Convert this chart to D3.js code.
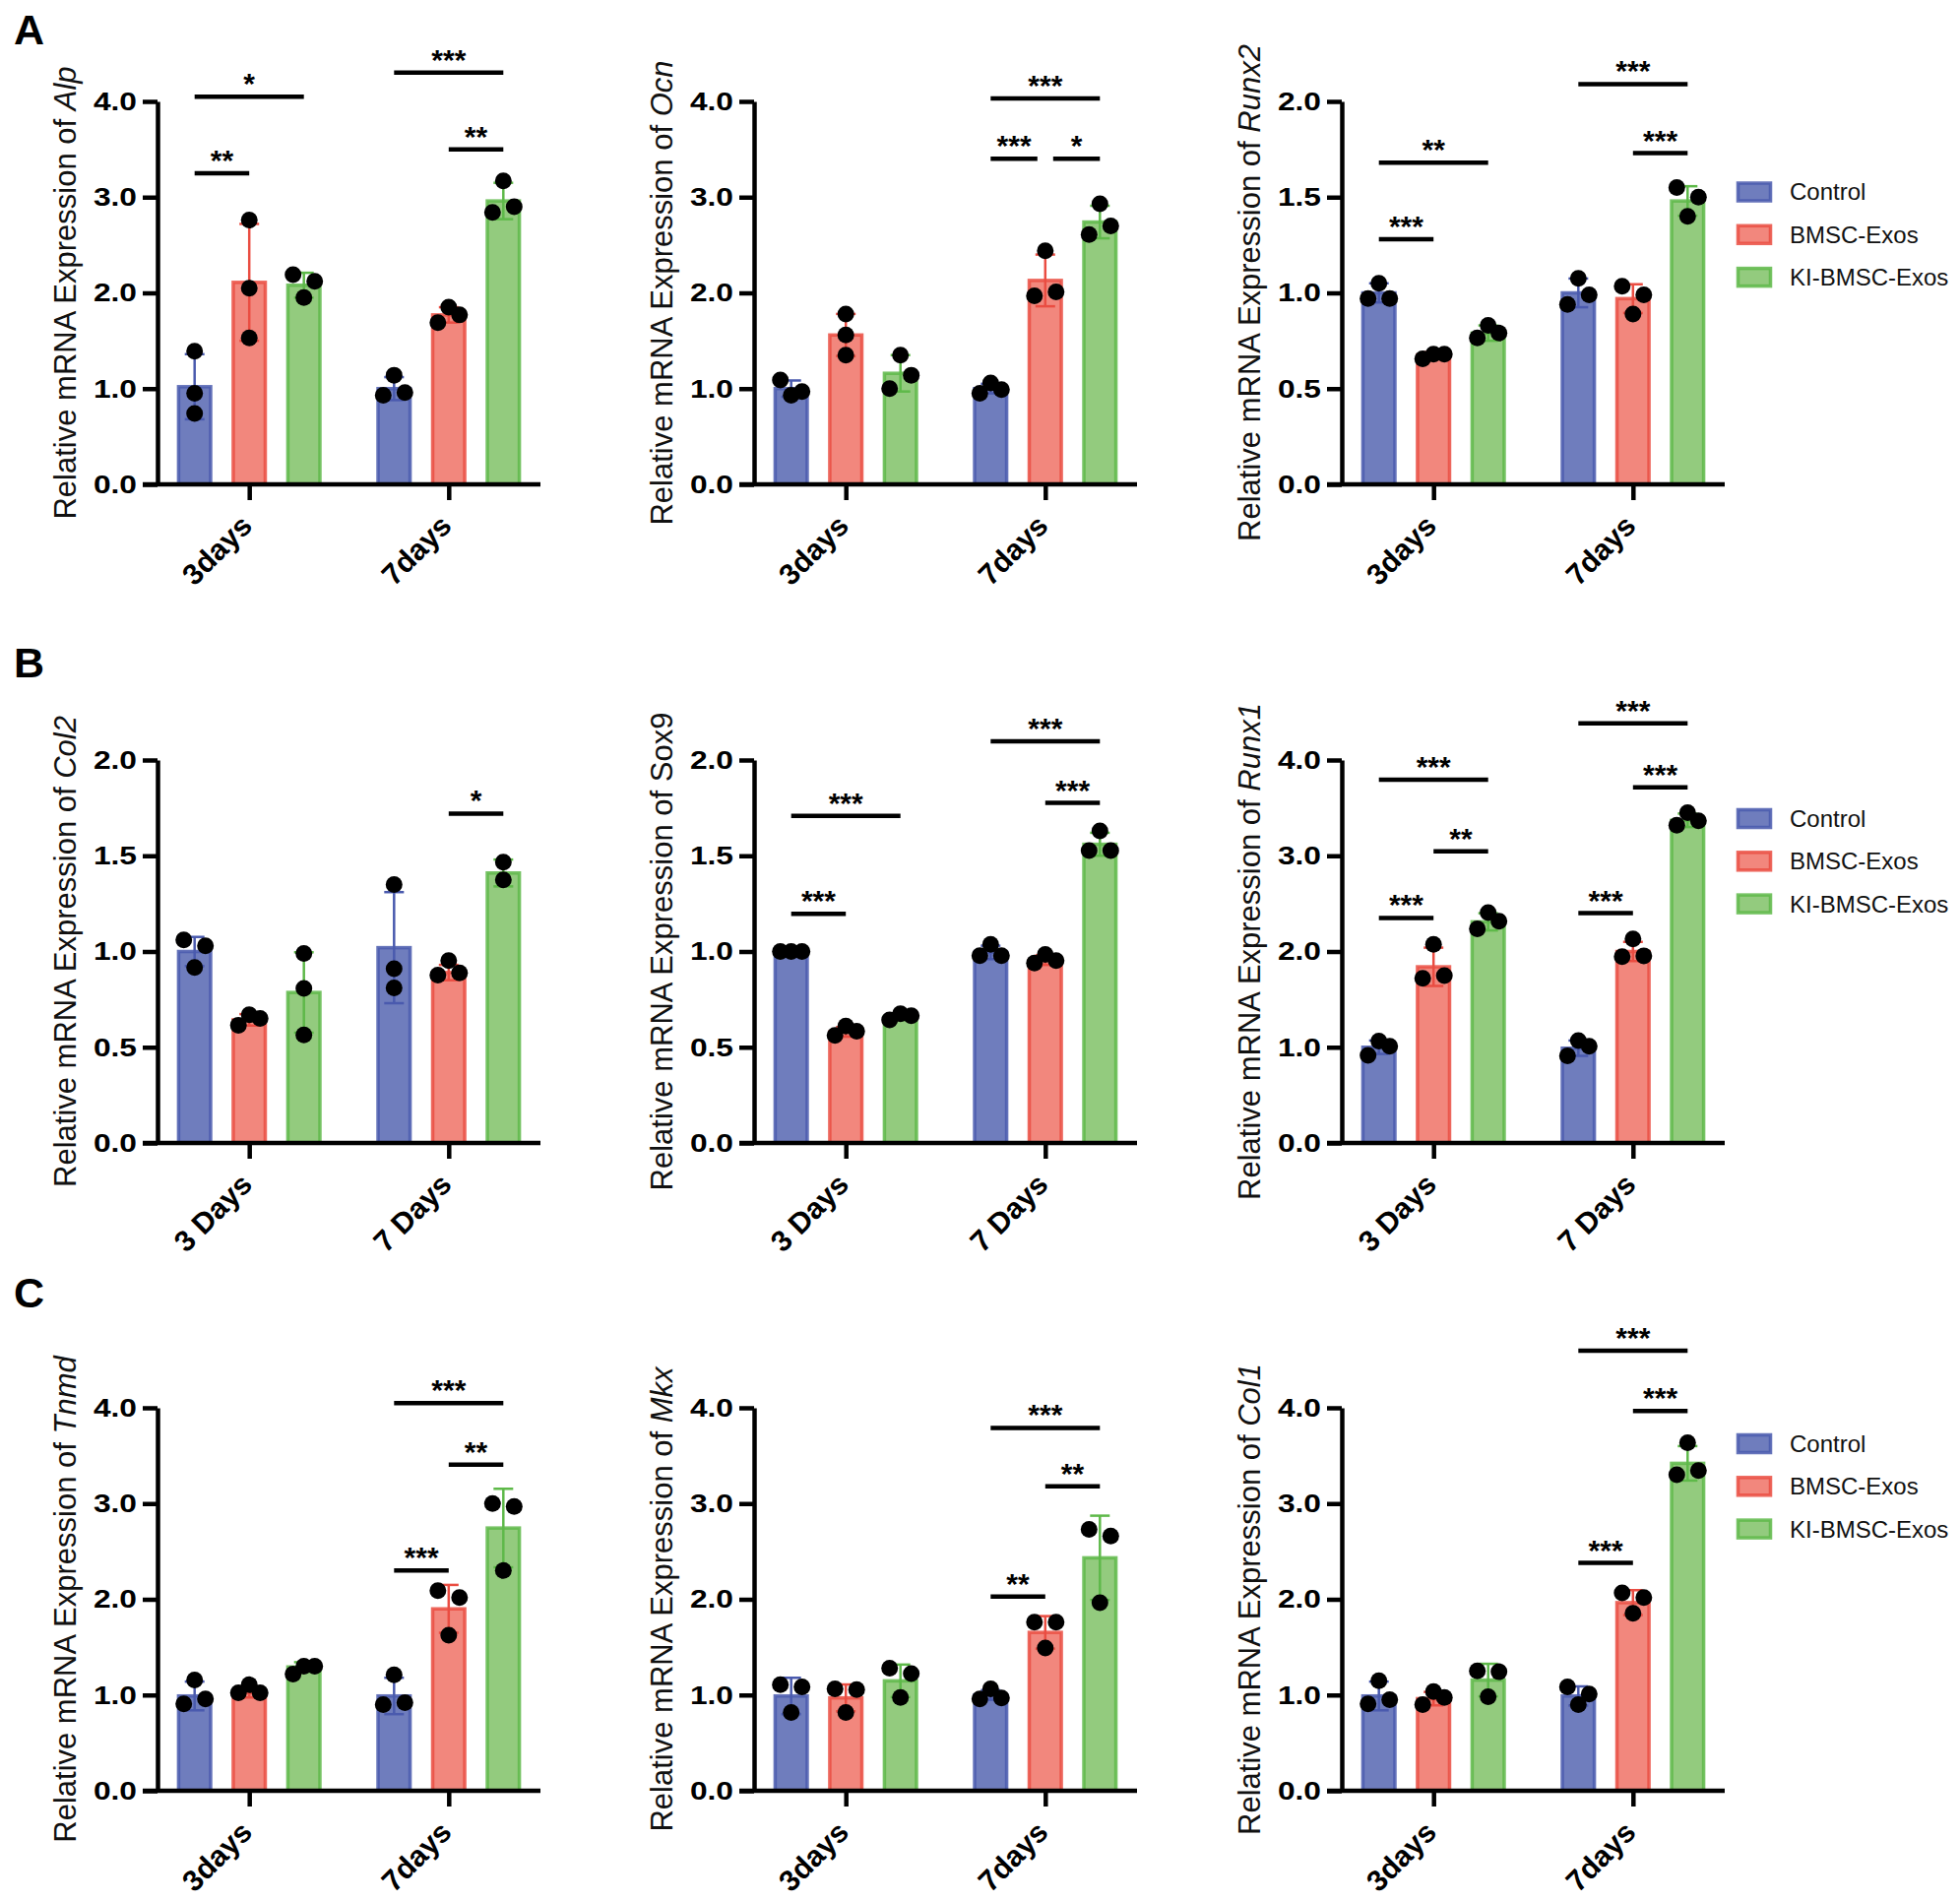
<!DOCTYPE html>
<html><head><meta charset="utf-8">
<script src="https://cdn.jsdelivr.net/npm/d3@7"></script>
<style>
body{margin:0;background:#fff}
svg{display:block}
text{font-family:"Liberation Sans",Arial,Helvetica,sans-serif}
</style>
</head><body>
<svg id="chart" width="1991" height="1932"></svg>
<script>
// ---------------- DATA ----------------
const seriesNames = ["Control", "BMSC-Exos", "KI-BMSC-Exos"];
const timesLower = ["3days", "7days"];
const timesUpper = ["3 Days", "7 Days"];
const ticks4 = [0, 1, 2, 3, 4];
const ticks2 = [0, 0.5, 1, 1.5, 2];

// means [time][series], sd [time][series], points [time][series][replicates], sig [time, from, to, level, label]
const alpMean = [[1.02, 2.11, 2.08], [1.00, 1.77, 2.96]];
const alpSD = [[0.34, 0.61, 0.13], [0.12, 0.08, 0.19]];
const alpPoints = [[[1.39, 0.95, 0.74], [2.76, 2.05, 1.53], [2.19, 1.95, 2.12]],
                   [[0.93, 1.14, 0.96], [1.69, 1.85, 1.77], [2.84, 3.17, 2.90]]];
const alpSig = [[0, 0, 2, 4.05, "*"], [0, 0, 1, 3.25, "**"], [1, 0, 2, 4.30, "***"], [1, 1, 2, 3.50, "**"]];

const ocnMean = [[1.00, 1.56, 1.16], [1.00, 2.13, 2.74]];
const ocnSD = [[0.085, 0.22, 0.19], [0.05, 0.27, 0.17]];
const ocnPoints = [[[1.09, 0.93, 0.97], [1.78, 1.56, 1.35], [1.00, 1.35, 1.14]],
                   [[0.95, 1.06, 0.99], [1.97, 2.44, 2.01], [2.61, 2.93, 2.70]]];
const ocnSig = [[1, 0, 2, 4.03, "***"], [1, 0, 1, 3.40, "***"], [1, 1, 2, 3.40, "*"]];

const runx2Mean = [[1.00, 0.675, 0.79], [1.00, 0.97, 1.48]];
const runx2SD = [[0.05, 0.015, 0.04], [0.075, 0.075, 0.077]];
const runx2Points = [[[0.97, 1.05, 0.97], [0.655, 0.68, 0.68], [0.765, 0.83, 0.79]],
                     [[0.94, 1.076, 0.99], [1.035, 0.89, 0.99], [1.55, 1.40, 1.50]]];
const runx2Sig = [[0, 0, 1, 1.28, "***"], [0, 0, 2, 1.68, "**"], [1, 0, 2, 2.09, "***"], [1, 1, 2, 1.73, "***"]];

const col2Mean = [[1.00, 0.643, 0.786], [1.02, 0.89, 1.41]];
const col2SD = [[0.076, 0.03, 0.21], [0.29, 0.04, 0.07]];
const col2Points = [[[1.06, 0.916, 1.03], [0.615, 0.67, 0.65], [0.99, 0.807, 0.564]],
                    [[1.35, 0.91, 0.81], [0.877, 0.952, 0.888], [1.467, 1.374]]];
const col2Sig = [[1, 1, 2, 1.72, "*"]];

const sox9Mean = [[1.00, 0.58, 0.66], [0.995, 0.955, 1.56]];
const sox9SD = [[0.005, 0.025, 0.017], [0.035, 0.025, 0.06]];
const sox9Points = [[[1.0, 1.0, 1.0], [0.562, 0.61, 0.584], [0.643, 0.675, 0.665]],
                    [[0.978, 1.037, 0.978], [0.94, 0.984, 0.952], [1.527, 1.63, 1.527]]];
const sox9Sig = [[0, 0, 1, 1.197, "***"], [0, 0, 2, 1.708, "***"], [1, 0, 2, 2.098, "***"], [1, 1, 2, 1.776, "***"]];

const runx1Mean = [[1.00, 1.84, 2.31], [0.99, 2.00, 3.37]];
const runx1SD = [[0.07, 0.20, 0.09], [0.08, 0.10, 0.07]];
const runx1Points = [[[0.916, 1.065, 1.01], [1.72, 2.075, 1.747], [2.236, 2.407, 2.317]],
                     [[0.91, 1.07, 1.01], [1.947, 2.13, 1.955], [3.318, 3.45, 3.365]]];
const runx1Sig = [[0, 0, 1, 2.35, "***"], [0, 1, 2, 3.046, "**"], [0, 0, 2, 3.795, "***"],
                  [1, 0, 1, 2.40, "***"], [1, 1, 2, 3.715, "***"], [1, 0, 2, 4.383, "***"]];

const tnmdMean = [[0.99, 1.024, 1.293], [0.99, 1.90, 2.744]];
const tnmdSD = [[0.15, 0.05, 0.05], [0.19, 0.25, 0.41]];
const tnmdPoints = [[[0.908, 1.157, 0.96], [1.024, 1.107, 1.024], [1.219, 1.30, 1.30]],
                    [[0.90, 1.21, 0.92], [2.089, 1.625, 2.019], [3.00, 2.30, 2.97]]];
const tnmdSig = [[1, 0, 1, 2.30, "***"], [1, 1, 2, 3.407, "**"], [1, 0, 2, 4.05, "***"]];

const mkxMean = [[0.99, 0.97, 1.148], [1.00, 1.654, 2.433]];
const mkxSD = [[0.19, 0.14, 0.17], [0.05, 0.17, 0.44]];
const mkxPoints = [[[1.107, 0.817, 1.086], [1.065, 0.817, 1.057], [1.28, 0.974, 1.223]],
                   [[0.96, 1.065, 0.97], [1.76, 1.49, 1.76], [2.73, 1.965, 2.66]]];
const mkxSig = [[1, 0, 1, 2.027, "**"], [1, 1, 2, 3.18, "**"], [1, 0, 2, 3.79, "***"]];

const col1Mean = [[0.99, 0.962, 1.156], [0.99, 1.965, 3.42]];
const col1SD = [[0.15, 0.07, 0.17], [0.10, 0.13, 0.18]];
const col1Points = [[[0.908, 1.148, 0.95], [0.90, 1.036, 0.974], [1.252, 0.982, 1.243]],
                    [[1.086, 0.90, 1.01], [2.068, 1.853, 2.019], [3.30, 3.635, 3.345]]];
const col1Sig = [[1, 0, 1, 2.38, "***"], [1, 1, 2, 3.967, "***"], [1, 0, 2, 4.597, "***"]];

const genes = ["Alp", "Ocn", "Runx2", "Col2", "Sox9", "Runx1", "Tnmd", "Mkx", "Col1"];
const geneItalic = [true, true, true, true, false, true, true, true, true];
const panelLetters = ["A", "B", "C"];

// ---------------- STYLE / LAYOUT ----------------
const fillColors = ["#6F7DBD", "#F2877D", "#93CB7E"];
const strokeColors = ["#4A5AAE", "#EA4D42", "#5EB949"];
const colX = [160, 766, 1363];
const rowTop = [103, 772, 1430];
const plotH = 389, plotW = 389;
const legendTop = [92, 59.5, 36.5];
const letterBase = [45, 688, 1328];
const FONT = '"Liberation Sans",Arial,Helvetica,sans-serif';

const panels = [
  {mean: alpMean, sd: alpSD, pts: alpPoints, sig: alpSig, ticks: ticks4, times: timesLower},
  {mean: ocnMean, sd: ocnSD, pts: ocnPoints, sig: ocnSig, ticks: ticks4, times: timesLower},
  {mean: runx2Mean, sd: runx2SD, pts: runx2Points, sig: runx2Sig, ticks: ticks2, times: timesLower},
  {mean: col2Mean, sd: col2SD, pts: col2Points, sig: col2Sig, ticks: ticks2, times: timesUpper},
  {mean: sox9Mean, sd: sox9SD, pts: sox9Points, sig: sox9Sig, ticks: ticks2, times: timesUpper},
  {mean: runx1Mean, sd: runx1SD, pts: runx1Points, sig: runx1Sig, ticks: ticks4, times: timesUpper},
  {mean: tnmdMean, sd: tnmdSD, pts: tnmdPoints, sig: tnmdSig, ticks: ticks4, times: timesLower},
  {mean: mkxMean, sd: mkxSD, pts: mkxPoints, sig: mkxSig, ticks: ticks4, times: timesLower},
  {mean: col1Mean, sd: col1SD, pts: col1Points, sig: col1Sig, ticks: ticks4, times: timesLower}
];

const svg = d3.select("#chart");
const DOT_R = 8.5, SPREAD = 11;

// spread overlapping points horizontally (column scatter)
function swarmOffsets(vals, y) {
  const idx = vals.map((v, i) => i).sort((a, b) => vals[b] - vals[a]);
  const clusters = [];
  let cur = [idx[0]];
  for (let k = 1; k < idx.length; k++) {
    const dy = Math.abs(y(vals[idx[k]]) - y(vals[idx[k - 1]]));
    if (dy < DOT_R * 2) cur.push(idx[k]); else { clusters.push(cur); cur = [idx[k]]; }
  }
  clusters.push(cur);
  const off = new Array(vals.length).fill(0);
  clusters.forEach(c => {
    const members = c.slice().sort((a, b) => a - b);
    const n = members.length;
    members.forEach((m, j) => { off[m] = (j - (n - 1) / 2) * (n === 2 ? 2 : 1) * SPREAD; });
  });
  return off;
}

panels.forEach((p, pi) => {
  const row = Math.floor(pi / 3), col = pi % 3;
  const x0 = colX[col], top = rowTop[row], bottom = top + plotH;
  const yMax = d3.max(p.ticks);
  const y = d3.scaleLinear().domain([0, yMax]).range([bottom, top]);
  const x = d3.scalePoint().domain(p.times).range([x0, x0 + plotW]).padding(0.46);
  const sub = d3.scaleBand().domain([0, 1, 2]).range([-83.25, 83.25]).paddingInner(0.35).paddingOuter(0.175);
  const bw = sub.bandwidth();
  const cx = (t, s) => x(p.times[t]) + sub(s) + bw / 2;
  const g = svg.append("g");

  // bars
  p.mean.forEach((ms, t) => ms.forEach((m, s) => {
    g.append("rect")
      .attr("x", cx(t, s) - bw / 2 + 1.75).attr("width", bw - 3.5)
      .attr("y", y(m)).attr("height", y(0) - y(m))
      .attr("fill", fillColors[s]).attr("stroke", strokeColors[s])
      .attr("stroke-width", 3.5).attr("stroke-opacity", 0.85);
  }));
  // error bars
  p.mean.forEach((ms, t) => ms.forEach((m, s) => {
    const sd = p.sd[t][s], c = cx(t, s);
    const eg = g.append("g").attr("stroke", strokeColors[s]).attr("stroke-width", 2.5);
    eg.append("line").attr("x1", c).attr("x2", c).attr("y1", y(m - sd)).attr("y2", y(m + sd));
    [m - sd, m + sd].forEach(v => eg.append("line").attr("x1", c - 10).attr("x2", c + 10).attr("y1", y(v)).attr("y2", y(v)));
  }));
  // points
  p.pts.forEach((grp, t) => grp.forEach((vals, s) => {
    const off = swarmOffsets(vals, y);
    vals.forEach((v, i) => {
      g.append("circle").attr("cx", cx(t, s) + off[i]).attr("cy", y(v)).attr("r", DOT_R).attr("fill", "#000");
    });
  }));

  // y axis
  const ya = g.append("g").attr("transform", `translate(${x0},0)`)
    .call(d3.axisLeft(y).tickValues(p.ticks).tickSize(15).tickSizeOuter(0).tickPadding(6).tickFormat(d3.format(".1f")));
  ya.selectAll("path,line").attr("stroke", "#000").attr("stroke-width", 4.5);
  ya.selectAll("text").attr("font-size", 26).attr("font-weight", "bold").attr("fill", "#000").attr("font-family", FONT)
    .attr("x", -21 / 1.22).attr("transform", "scale(1.22,1)");

  // x axis
  const xa = g.append("g").attr("transform", `translate(0,${bottom})`)
    .call(d3.axisBottom(x).tickSize(16).tickSizeOuter(0));
  xa.select(".domain").attr("d", `M${x0 - 15},0H${x0 + plotW}`);
  xa.selectAll("path,line").attr("stroke", "#000").attr("stroke-width", 4.5);
  xa.selectAll("text").attr("font-size", 30).attr("font-weight", "bold").attr("fill", "#000").attr("font-family", FONT)
    .attr("y", null).attr("dy", null).attr("text-anchor", "end")
    .attr("transform", "translate(4,44) rotate(-45)");

  // y label
  const yl = g.append("text").attr("text-anchor", "middle").attr("font-size", 31).attr("fill", "#111")
    .attr("transform", `translate(${x0 - 83},${(top + bottom) / 2}) rotate(-90)`);
  yl.append("tspan").text("Relative mRNA Expression of ");
  yl.append("tspan").attr("font-style", geneItalic[pi] ? "italic" : "normal").text(genes[pi]);

  // significance brackets
  p.sig.forEach((sg, k) => {
    const [t, a, b, lvl, lab] = sg;
    let xa1 = cx(t, a), xb1 = cx(t, b);
    p.sig.forEach((o, j) => {
      if (j === k || o[0] !== t || Math.abs(o[3] - lvl) > 0.05) return;
      if (o[1] === b) xb1 -= 8;
      if (o[2] === a) xa1 += 8;
    });
    g.append("line").attr("x1", xa1).attr("x2", xb1).attr("y1", y(lvl)).attr("y2", y(lvl))
      .attr("stroke", "#000").attr("stroke-width", 4.5);
    g.append("text").attr("x", (xa1 + xb1) / 2).attr("y", y(lvl) - 3).attr("text-anchor", "middle")
      .attr("font-size", 30).attr("font-weight", "bold").attr("fill", "#000").text(lab);
  });

  // legend (right column)
  if (col === 2) {
    const lg = g.append("g");
    seriesNames.forEach((n, s) => {
      const cy = top + legendTop[row] + s * 43.3;
      lg.append("rect").attr("x", x0 + 402.5).attr("y", cy - 9).attr("width", 33).attr("height", 18)
        .attr("fill", fillColors[s]).attr("stroke", strokeColors[s]).attr("stroke-width", 3.5).attr("stroke-opacity", 0.85);
      lg.append("text").attr("x", x0 + 455).attr("y", cy).attr("dy", "0.35em")
        .attr("font-size", 24).attr("fill", "#111").text(n);
    });
  }
});

// panel letters
panelLetters.forEach((L, i) => {
  svg.append("text").attr("x", 14).attr("y", letterBase[i]).attr("font-size", 43).attr("font-weight", "bold")
    .attr("fill", "#000").text(L);
});
</script>
</body></html>
